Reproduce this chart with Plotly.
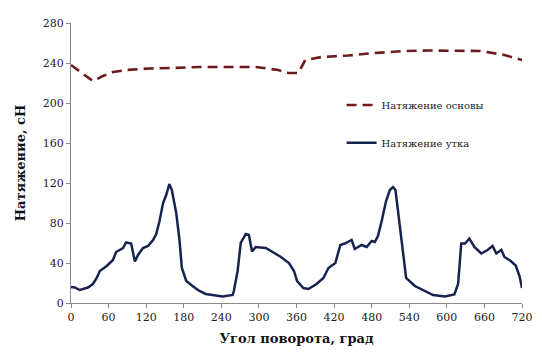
import plotly.graph_objects as go

weft_x = [0, 6, 14, 27, 35, 41, 46, 57, 67, 72, 83, 88, 96, 102, 107, 115, 123, 131, 136, 141, 147, 152, 157, 161, 168, 173, 177, 184, 194, 205,
          215, 231, 242, 258, 260, 266, 271, 279, 284, 289, 295, 311, 321, 334, 348, 356, 361, 371, 379, 392, 403, 411, 422, 430, 437, 448, 453, 464, 472,
          480, 485, 490, 496, 503, 509, 514, 518, 525, 530, 535, 549, 560, 578, 597, 612, 618, 623, 629, 634, 636, 644, 655, 665, 673, 679, 687, 692, 702, 710, 716, 720]
weft_y = [16, 15.5, 13, 15.5, 19, 25, 32, 37, 43, 51, 55, 60.5, 59.5, 41.5, 48, 55, 57, 63, 69, 81, 100, 108, 119, 113, 90, 64, 35, 22, 17, 12,
          9, 7.5, 6.5, 8, 12, 32, 60, 69, 68, 51.5, 56, 55, 51.5, 46.5, 40, 32, 22, 15, 14, 19, 25, 35, 40, 58, 59.5, 63, 54, 58, 56,
          62, 61, 67, 82, 102, 113, 116, 113, 77, 45, 25, 17, 13.5, 8, 6.5, 8.5, 19, 59.5, 59.5, 63, 64.5, 56, 49.5, 53, 57, 49.5, 53, 46, 42, 37.5, 27, 15]

warp_x = [0, 20, 35, 51, 67, 88, 125, 162, 205, 242, 295, 331, 347, 363, 374, 400, 443, 485, 533, 570, 612, 655, 692, 720]
warp_y = [238, 229, 222, 227, 231, 233, 234.5, 235, 236, 236, 236, 233, 230, 230, 243, 246, 247.5, 250, 252, 252.5, 252.5, 252, 248, 243]

x_ticks = [0, 60, 120, 180, 240, 300, 360, 420, 480, 540, 600, 660, 720]
y_ticks = [0, 40, 80, 120, 160, 200, 240, 280]

serif = "DejaVu Serif"

fig = go.Figure()
fig.add_trace(go.Scatter(x=warp_x, y=warp_y, mode="lines", name="Натяжение основы", showlegend=True,
                         line=dict(color="#6e1a1a", width=2.6, dash="10px,6px"), legend="legend"))
fig.add_trace(go.Scatter(x=weft_x, y=weft_y, mode="lines", name="Натяжение утка", showlegend=True,
                         line=dict(color="#17234f", width=2.5), legend="legend2"))

axis_common = dict(showgrid=False, zeroline=False, showline=True, linecolor="#8a8a8a", linewidth=1.2,
                   ticks="outside", ticklen=4, tickcolor="#8a8a8a",
                   tickfont=dict(family=serif, size=11, color="#222"))

fig.update_layout(
    width=534, height=344,
    showlegend=True,
    margin=dict(l=63, r=16, t=9, b=49),
    paper_bgcolor="white", plot_bgcolor="white",
    xaxis=dict(range=[0, 720], tickvals=x_ticks, **axis_common,
               title=dict(text="<b>Угол поворота, град</b>", font=dict(family=serif, size=13, color="#111"), standoff=10)),
    yaxis=dict(range=[0, 280], tickvals=y_ticks, **axis_common,
               title=dict(text="<b>Натяжение, сН</b>", font=dict(family=serif, size=13, color="#111"), standoff=14)),
    legend=dict(x=0.6, y=0.707, xanchor="left", yanchor="middle", bgcolor="rgba(0,0,0,0)",
                font=dict(family=serif, size=10, color="#222")),
    legend2=dict(x=0.6, y=0.572, xanchor="left", yanchor="middle", bgcolor="rgba(0,0,0,0)",
                 font=dict(family=serif, size=10, color="#222")),
)

fig.write_html("out.html")
